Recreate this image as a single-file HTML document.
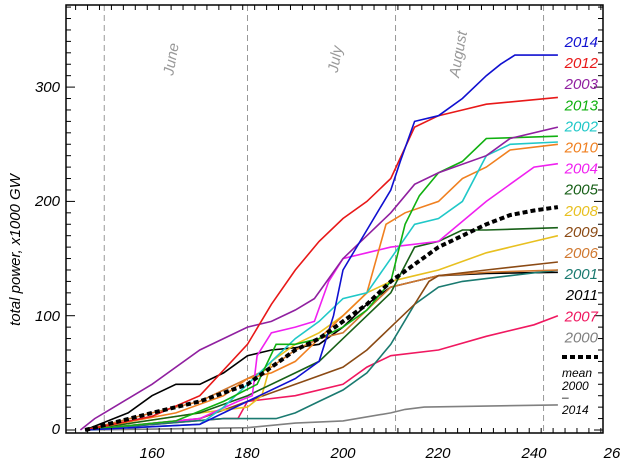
<!DOCTYPE html>
<html><head><meta charset="utf-8"><style>
body{margin:0;background:#fff;}
svg text{font-family:"Liberation Sans",sans-serif;font-style:italic;}
</style></head><body>
<svg id="s" width="620" height="463" viewBox="0 0 620 463" xmlns="http://www.w3.org/2000/svg">
<g id="plot"></g>
<rect x="66" y="5" width="537" height="428" fill="none" stroke="#000" stroke-width="1.5"/>
<g id="ticks" stroke="#000" stroke-width="1"></g>
<g font-size="15" text-anchor="middle" fill="#000">
<text x="152" y="458">160</text><text x="247" y="458">180</text><text x="343" y="458">200</text>
<text x="438" y="458">220</text><text x="534" y="458">240</text><text x="612" y="458">26</text>
</g>
<g font-size="15" text-anchor="end" fill="#000">
<text x="60" y="434">0</text><text x="60" y="321">100</text><text x="60" y="206">200</text><text x="60" y="92">300</text>
</g>
<text transform="translate(20,250) rotate(-90)" font-size="15" text-anchor="middle">total power, x1000 GW</text>
<g font-size="15" fill="#999" text-anchor="middle">
<text transform="translate(176,60) rotate(-80)">June</text>
<text transform="translate(340,60) rotate(-80)">July</text>
<text transform="translate(463,55) rotate(-80)">August</text>
</g>
<g id="leg" font-size="15" text-anchor="end"></g>
<line x1="562" y1="357" x2="598" y2="357" stroke="#000" stroke-width="4" stroke-dasharray="5,3"/>
<g font-size="12" fill="#000"><text x="562" y="377">mean</text><text x="562" y="390">2000</text><text x="562" y="401">–</text><text x="562" y="414">2014</text></g>
</svg>
<script>
const X=d=>152+(d-160)*4.775, Y=v=>430-v*1.143;
const ns="http://www.w3.org/2000/svg";
const P=document.getElementById('plot');
function el(t,a,p){const e=document.createElementNS(ns,t);for(const k in a)e.setAttribute(k,a[k]);(p||P).appendChild(e);return e;}
[150,180,211,242].forEach(d=>el('line',{x1:X(d),x2:X(d),y1:5,y2:433,stroke:'#999','stroke-dasharray':'6,4'}));
const T=document.getElementById('ticks');
for(let d=144;d<=254;d+=2.5){let big=(d%10==0);let x=X(d);if(x<66||x>603)continue;let l=big?9:5;el('line',{x1:x,x2:x,y1:433,y2:433-l},T);el('line',{x1:x,x2:x,y1:5,y2:5+l},T);}
for(let v=0;v<=370;v+=10){let y=Y(v);if(y<5)continue;let l=v%100==0?9:5;el('line',{x1:66,x2:66+l,y1:y,y2:y},T);el('line',{x1:603,x2:603-l,y1:y,y2:y},T);}
const S=[
['2014','#1010d0',[[146,0],[170,5],[180,25],[190,45],[195,60],[198,100],[200,140],[205,175],[210,210],[212,235],[215,270],[220,275],[225,290],[230,310],[233,320],[236,328],[245,328]]],
['2012','#e81818',[[146,0],[160,12],[170,30],[180,75],[185,110],[190,140],[195,165],[200,185],[205,200],[210,220],[215,265],[220,275],[225,280],[230,285],[245,291]]],
['2003','#9020a0',[[145,0],[148,10],[150,15],[160,40],[170,70],[180,90],[185,95],[190,105],[194,115],[200,150],[205,170],[210,190],[215,215],[220,225],[230,240],[235,255],[245,265]]],
['2013','#10b010',[[146,0],[165,8],[175,25],[182,40],[186,75],[190,75],[195,80],[200,90],[205,105],[210,130],[213,180],[216,205],[220,225],[225,235],[230,255],[245,257]]],
['2002','#20c8c8',[[146,0],[170,5],[175,20],[180,40],[185,60],[190,80],[195,95],[200,115],[205,120],[210,150],[215,180],[220,185],[225,200],[230,240],[235,250],[245,252]]],
['2010','#f08020',[[146,0],[165,15],[175,30],[180,45],[185,50],[190,60],[195,80],[200,100],[205,120],[209,180],[213,190],[220,200],[225,220],[230,230],[235,245],[245,250]]],
['2004','#f020f0',[[146,0],[170,10],[178,25],[181,30],[182,65],[185,85],[190,90],[194,95],[197,130],[200,150],[205,155],[210,160],[220,165],[230,200],[240,230],[245,233]]],
['2005','#186018',[[146,0],[170,15],[180,30],[190,50],[195,60],[200,80],[205,100],[210,120],[215,160],[220,165],[225,175],[230,175],[245,177]]],
['2008','#e8c020',[[146,0],[170,15],[180,20],[183,30],[185,60],[190,75],[195,85],[200,100],[205,120],[210,130],[215,135],[220,140],[230,155],[240,165],[245,170]]],
['2009','#8b4a14',[[146,0],[170,10],[180,25],[190,40],[200,55],[205,70],[210,90],[215,110],[218,130],[220,135],[230,140],[245,147]]],
['2006','#d07830',[[146,0],[160,15],[170,25],[175,35],[180,45],[185,55],[190,70],[195,80],[200,85],[205,105],[210,125],[215,130],[220,135],[230,138],[245,140]]],
['2001','#1a7a70',[[146,0],[175,10],[186,10],[190,15],[195,25],[200,35],[205,50],[210,75],[215,110],[220,125],[225,130],[235,135],[245,140]]],
['2011','#000000',[[146,0],[155,15],[160,30],[165,40],[170,40],[175,50],[180,65],[185,70],[190,72],[195,75],[200,90],[205,110],[210,125],[215,130],[220,135],[230,137],[245,138]]],
['2007','#f01860',[[146,0],[175,10],[178,10],[180,25],[190,30],[200,40],[205,55],[210,65],[220,70],[230,82],[240,92],[245,100]]],
['2000','#808080',[[146,0],[180,2],[190,6],[200,8],[210,15],[213,18],[217,20],[245,22]]]];
const pts=a=>a.map(p=>X(p[0]).toFixed(1)+','+Y(p[1]).toFixed(1)).join(' ');
S.slice().reverse().forEach(s=>el('polyline',{points:pts(s[2]),fill:'none',stroke:s[1],'stroke-width':1.6}));
el('polyline',{points:pts([[146,0],[160,15],[170,25],[180,40],[185,55],[190,70],[195,80],[200,95],[205,110],[210,130],[215,145],[220,160],[225,170],[230,180],[235,188],[240,192],[245,195]]),fill:'none',stroke:'#000','stroke-width':4,'stroke-dasharray':'5,3'});
const L=document.getElementById('leg');
S.forEach((s,i)=>{const t=el('text',{x:598,y:47+i*21.1,fill:s[1]},L);t.textContent=s[0];});
</script>
</body></html>
